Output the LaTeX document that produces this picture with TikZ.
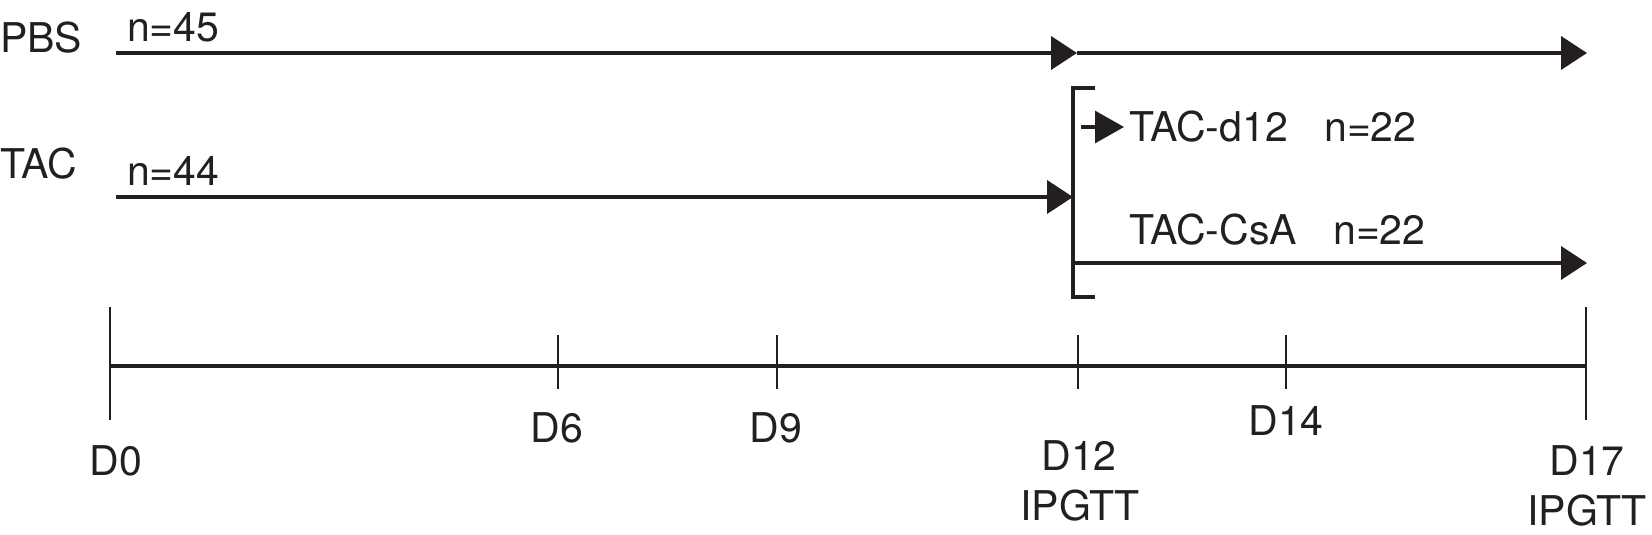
\documentclass[tikz,border=0pt]{standalone}
\usepackage{fontspec}
\setmainfont{TeX Gyre Heros}
\usetikzlibrary{arrows.meta}
\definecolor{ink}{HTML}{231F20}
\begin{document}
\begin{tikzpicture}[x=1pt,y=-1pt,
  lbl/.style={inner sep=0pt,text=ink,font=\fontsize{41}{46}\selectfont},
  flow/.style={draw=ink,line width=4pt,-{Triangle[length=26pt,width=33pt]}},
  axis/.style={draw=ink,line width=3.8pt},
  tick/.style={draw=ink,line width=2.2pt},
  brk/.style={draw=ink,line width=3.2pt}]
\useasboundingbox (0,0) rectangle (1652,535);
% labels
\node[lbl,anchor=base west] (pbs) at (0,53) {PBS};
\node[lbl,anchor=base west] (n45) at (127,42) {n=45};
\node[lbl,anchor=base west] (tac) at (0,178) {TAC};
\node[lbl,anchor=base west] (n44) at (127,185) {n=44};
\node[lbl,anchor=base west] (d12g) at (1129,141) {TAC-d12};
\node[lbl,anchor=base west] (n22a) at (1324,141) {n=22};
\node[lbl,anchor=base west] (csag) at (1129,244) {TAC-CsA};
\node[lbl,anchor=base west] (n22b) at (1333,244) {n=22};
% flow coordinates
\coordinate (p0) at (116,53);
\coordinate (p1) at (1077,53);
\coordinate (p2) at (1587,53);
\coordinate (t0) at (116,197);
\coordinate (t1) at (1073,197);
\coordinate (bt) at (1095,88);
\coordinate (btc) at (1073,88);
\coordinate (bbc) at (1073,297);
\coordinate (bb) at (1095,297);
\coordinate (a0) at (1081,127);
\coordinate (a1) at (1124,127);
\coordinate (c0) at (1073,263);
\coordinate (c1) at (1587,263);
\draw[flow] (p0) -- (p1);
\draw[flow] (p1) -- (p2);
\draw[flow] (t0) -- (t1);
\draw[brk] (bt) -- (btc) -- (bbc) -- (bb);
\draw[draw=ink,line width=3.2pt,-{Triangle[length=29pt,width=32pt]}] (a0) -- (a1);
\draw[flow] (c0) -- (c1);
% timeline
\coordinate (x0) at (110,366);
\coordinate (x17) at (1586,366);
\draw[axis] (x0) -- (x17);
\coordinate (k0a) at (110,307); \coordinate (k0b) at (110,420);
\coordinate (k17a) at (1586,307); \coordinate (k17b) at (1586,420);
\coordinate (k6a) at (558,335); \coordinate (k6b) at (558,389);
\coordinate (k9a) at (777,335); \coordinate (k9b) at (777,389);
\coordinate (k12a) at (1078,335); \coordinate (k12b) at (1078,389);
\coordinate (k14a) at (1286,335); \coordinate (k14b) at (1286,389);
\draw[tick] (k0a) -- (k0b);
\draw[tick] (k17a) -- (k17b);
\draw[tick] (k6a) -- (k6b);
\draw[tick] (k9a) -- (k9b);
\draw[tick] (k12a) -- (k12b);
\draw[tick] (k14a) -- (k14b);
\node[lbl,anchor=base] (d0) at (116,475) {D0};
\node[lbl,anchor=base] (d6) at (557,442) {D6};
\node[lbl,anchor=base] (d9) at (776,442) {D9};
\node[lbl,anchor=base] (d12) at (1079,470) {D12};
\node[lbl,anchor=base] (ip12) at (1080,520) {IPGTT};
\node[lbl,anchor=base] (d14) at (1286,435) {D14};
\node[lbl,anchor=base] (d17) at (1587,475) {D17};
\node[lbl,anchor=base] (ip17) at (1587,525) {IPGTT};
\end{tikzpicture}
\end{document}
